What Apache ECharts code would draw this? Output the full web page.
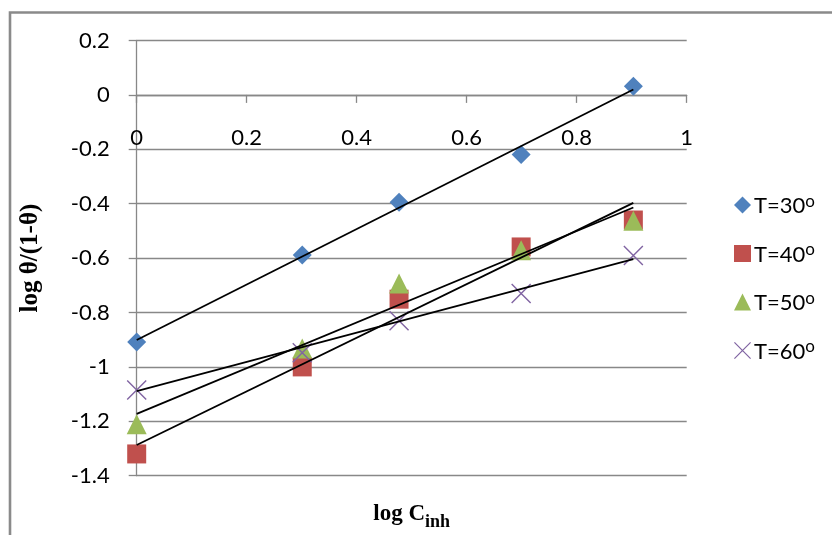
<!DOCTYPE html>
<html>
<head>
<meta charset="utf-8">
<style>
  html, body { margin: 0; padding: 0; background: #ffffff; }
  #chart { width: 832px; height: 535px; }
</style>
<script src="https://cdn.jsdelivr.net/npm/echarts@6/dist/echarts.min.js"></script>
</head>
<body>
<div id="chart"></div>
<script>
// log of inhibitor concentration (x) for each sample
const logC = [0, 0.301, 0.477, 0.699, 0.903];

// log θ/(1-θ) per temperature
const t30 = [-0.908, -0.589, -0.395, -0.219, 0.032];
const t40 = [-1.320, -1.000, -0.751, -0.559, -0.460];
const t50 = [-1.211, -0.932, -0.693, -0.571, -0.463];
const t60 = [-1.085, -0.948, -0.830, -0.730, -0.590];

// linear trend lines: [x, y] at both ends
const fit30 = [[0, -0.901], [0.903, 0.020]];
const fit40 = [[0, -1.287], [0.903, -0.397]];
const fit50 = [[0, -1.173], [0.903, -0.414]];
const fit60 = [[0, -1.089], [0.903, -0.604]];

const seriesNames = ['T=30', 'T=40', 'T=50', 'T=60'];
const xTicks = { min: 0, max: 1, step: 0.2 };
const yTicks = { min: -1.4, max: 0.2, step: 0.2 };

const colors = ['#4F81BD', '#C0504D', '#9BBB59', '#8064A2'];
const crossPath = 'path://M0,0.5L0.5,0L10,9.5L9.5,10Z M9.5,0L10,0.5L0.5,10L0,9.5Z';
const symbols = ['diamond', 'rect', 'triangle', crossPath];
const symbolSizes = [19, 19, 20, 20];

const pts = (ys) => logC.map((x, i) => [x, ys[i]]);
const values = [t30, t40, t50, t60];
const fits = [fit30, fit40, fit50, fit60];

const gridColor = '#888888';
const tickFont = 'Lato, "Liberation Sans", sans-serif';
const titleFont = '"Liberation Serif", "Times New Roman", serif';

// plot box
const gridBox = { left: 136.7, right: 145.3, top: 40.5, bottom: 59.3 };
const plotHeight = 535 - gridBox.top - gridBox.bottom;
// the x axis crosses the y axis at y = 0: lift it from the bottom edge
const xAxisLift = -((0 - yTicks.min) / (yTicks.max - yTicks.min)) * plotHeight;

const series = [];
fits.forEach((f, i) => {
  series.push({
    name: 'fit' + i,
    type: 'line',
    data: f,
    symbol: 'none',
    silent: true,
    z: 3,
    lineStyle: { color: '#000000', width: 1.8 },
    animation: false
  });
});
values.forEach((ys, i) => {
  series.push({
    name: seriesNames[i],
    type: 'scatter',
    data: pts(ys),
    symbol: symbols[i],
    symbolSize: symbolSizes[i],
    z: 2,
    itemStyle: { color: colors[i], opacity: 1 },
    animation: false
  });
});

const chart = echarts.init(document.getElementById('chart'), null, { renderer: 'canvas' });
chart.setOption({
  backgroundColor: '#ffffff',
  animation: false,
  graphic: [{
    type: 'rect',
    shape: { x: 10, y: 12.5, width: 900, height: 600 },
    style: { fill: 'none', stroke: '#8a8a8a', lineWidth: 2.6 },
    silent: true,
    z: -10
  }],
  grid: {
    left: gridBox.left, right: gridBox.right, top: gridBox.top, bottom: gridBox.bottom,
    containLabel: false,
    outerBoundsMode: 'none'
  },
  legend: {
    orient: 'vertical',
    left: 729,
    top: 188,
    itemWidth: 17,
    itemHeight: 17,
    itemGap: 24.5,
    data: seriesNames,
    formatter: (name) => '{b|' + name + '}{s|o}',
    textStyle: {
      fontFamily: tickFont,
      fontSize: 22,
      color: '#000000',
      padding: [0, 0, 0, -2],
      rich: {
        b: { fontFamily: tickFont, fontSize: 22, lineHeight: 24, verticalAlign: 'bottom', color: '#000000' },
        s: { fontFamily: tickFont, fontSize: 17, lineHeight: 15, verticalAlign: 'top', color: '#000000' }
      }
    }
  },
  xAxis: {
    type: 'value',
    position: 'bottom',
    offset: xAxisLift,
    min: xTicks.min,
    max: xTicks.max,
    interval: xTicks.step,
    axisLine: { show: true, onZero: false, lineStyle: { color: gridColor, width: 1.3 } },
    axisTick: { show: true, inside: false, length: 8, lineStyle: { color: gridColor, width: 1.3 } },
    axisLabel: { margin: 32, fontFamily: tickFont, fontSize: 22, color: '#000000', formatter: (v) => String(+v.toFixed(1)) },
    splitLine: { show: false },
    name: '{m|log C}{sub|inh}',
    nameLocation: 'middle',
    nameGap: 408,
    nameTextStyle: {
      fontFamily: titleFont, fontWeight: 'bold', fontSize: 23, color: '#000000',
      rich: {
        m: { fontFamily: titleFont, fontWeight: 'bold', fontSize: 23, lineHeight: 28, verticalAlign: 'top', color: '#000000' },
        sub: { fontFamily: titleFont, fontWeight: 'bold', fontSize: 18, lineHeight: 18, verticalAlign: 'bottom', color: '#000000' }
      }
    }
  },
  yAxis: {
    type: 'value',
    min: yTicks.min,
    max: yTicks.max,
    interval: yTicks.step,
    axisLine: { show: true, onZero: false, lineStyle: { color: gridColor, width: 1.3 } },
    axisTick: { show: true, inside: false, length: 8, lineStyle: { color: gridColor, width: 1.3 } },
    axisLabel: { margin: 27, fontFamily: tickFont, fontSize: 22, color: '#000000', formatter: (v) => String(+v.toFixed(1)) },
    splitLine: { show: true, lineStyle: { color: gridColor, width: 1.3 } },
    name: 'log θ/(1-θ)',
    nameLocation: 'middle',
    nameRotate: 90,
    nameGap: 94,
    nameTextStyle: { fontFamily: titleFont, fontWeight: 'bold', fontSize: 25, color: '#000000' }
  },
  series: series
});
</script>
</body>
</html>
